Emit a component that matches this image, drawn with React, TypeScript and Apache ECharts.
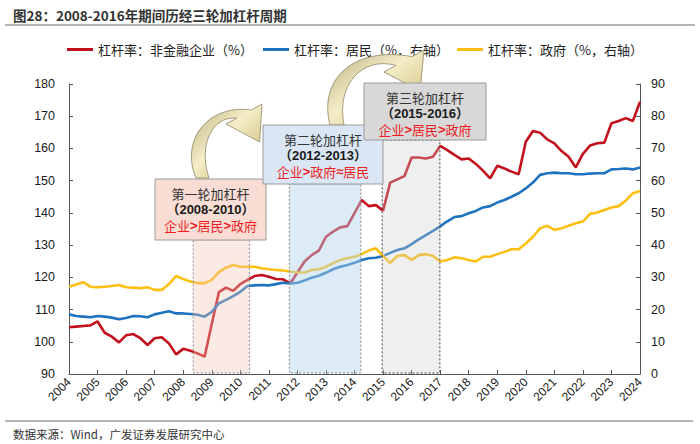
import React, { useEffect, useRef } from 'react';
import * as echarts from 'echarts';

// ---- data (quarterly, first point = 2004Q1 at x = 2004.00) ----
const START_YEAR = 2004;
const STEP = 0.25;

const seriesNames = ['杠杆率：非金融企业（%）', '杠杆率：居民（%，右轴）', '杠杆率：政府（%，右轴）'];

// left axis (%)
const corporateLeverage = [
  104.5, 104.7, 104.9, 105.1, 106.3,
  102.8, 101.6, 99.8, 102.0, 102.4,
  101.1, 99.0, 101.1, 101.4, 99.5,
  96.1, 97.8, 97.2, 96.4, 95.4,
  105.5, 115.4, 116.8, 115.8, 117.9,
  119.2, 120.4, 120.7, 120.2, 119.5,
  119.4, 118.1, 121.5, 124.9, 126.9,
  128.3, 132.6, 134.2, 135.5, 135.9,
  139.9, 144.0, 142.1, 142.4, 140.7,
  149.4, 150.4, 151.4, 157.2, 157.2,
  156.9, 157.4, 160.8, 159.5, 158.0,
  156.6, 156.9, 155.2, 153.1, 150.7,
  154.6, 153.8, 152.8, 152.0, 162.1,
  165.4, 164.9, 162.8, 161.6, 159.2,
  157.4, 154.1, 158.3, 160.9, 161.6,
  161.8, 167.8, 168.5, 169.4, 168.5,
  174.5,
];

// right axis (%)
const householdLeverage = [
  18.5, 18.0, 17.8, 17.6, 18.0,
  17.8, 17.5, 17.0, 17.4, 18.0,
  17.9, 17.6, 18.5, 19.0, 19.5,
  18.8, 18.8, 18.6, 18.4, 17.8,
  19.3, 21.9, 23.0, 24.2, 25.5,
  27.3, 27.5, 27.6, 27.5, 27.9,
  28.3, 28.1, 28.3, 29.0, 29.9,
  30.5, 31.4, 32.5, 33.3, 33.8,
  34.5, 35.4, 35.9, 36.1, 36.6,
  37.6, 38.5, 39.0, 40.3, 41.8,
  43.1, 44.4, 45.8, 47.4, 48.7,
  49.0, 49.9, 50.6, 51.7, 52.1,
  53.2, 54.0, 55.0, 56.1, 57.6,
  59.4, 61.8, 62.3, 62.5, 62.3,
  62.3, 62.0, 62.0, 62.2, 62.3,
  62.3, 63.5, 63.6, 63.8, 63.5,
  64.1,
];

// right axis (%)
const governmentLeverage = [
  27.1, 27.8, 28.5, 27.1, 26.9,
  27.1, 27.3, 27.6, 26.9, 26.8,
  26.6, 26.9, 26.1, 26.1, 27.9,
  30.4, 29.5, 28.7, 28.2, 28.2,
  29.2, 31.6, 33.0, 33.8, 33.3,
  33.3, 33.3, 32.8, 32.5, 32.3,
  32.1, 31.8, 31.5, 31.5, 32.3,
  32.5, 33.3, 34.4, 35.4, 35.9,
  36.4, 37.2, 38.3, 39.0, 36.6,
  34.5, 36.6, 36.9, 35.4, 36.9,
  37.2, 36.6, 34.9, 35.4, 36.2,
  35.9, 35.4, 34.9, 36.4, 36.4,
  37.2, 37.9, 38.7, 38.7, 40.5,
  42.6, 45.2, 46.0, 44.7, 45.2,
  46.0, 46.8, 47.3, 49.7, 50.1,
  50.9, 51.7, 52.1, 53.8, 56.1,
  56.8,
];

// leveraging periods (start, end in years)
const periodStart = [2008.35, 2011.72, 2014.97];
const periodEnd = [2010.32, 2014.22, 2016.99];
const periodTitles = ['第一轮加杠杆', '第二轮加杠杆', '第三轮加杠杆'];
const periodYears = ['（2008-2010）', '（2012-2013）', '（2015-2016）'];
const periodOrder = [
  ['企业', '>', '居民', '>', '政府'],
  ['企业', '>', '政府', '≈', '居民'],
  ['企业', '>', '居民', '>', '政府'],
];

// ---- layout / style ----
const CJK = '"Noto Sans CJK SC", "Noto Sans", sans-serif';
const LATIN = '"Liberation Sans", Arial, sans-serif';
const COLORS = ['#c2101c', '#1f73be', '#fdbf12'];

const boxLayout = [
  { x: 155, y: 179, w: 111, h: 61, fill: '#f9ddd4', regionFill: 'rgba(245,196,180,0.36)', regionStroke: '#8a8a8a' },
  { x: 263, y: 125, w: 120, h: 59, fill: '#dae6f3', regionFill: 'rgba(180,210,238,0.45)', regionStroke: '#8a8a8a' },
  { x: 364, y: 83, w: 122, h: 57, fill: '#d8d8d8', regionFill: 'rgba(205,205,205,0.32)', regionStroke: '#404040' },
];

const ARROW1 =
  'M 196 178 C 180 140 208 104 251.2 110 L 262 104 L 259.6 142 L 226 124 L 236.8 118 C 212 116 198 145 209 178 Z';
const ARROW2 =
  'M 330 125 C 318 78 355 46 412 56.6 L 424 50 L 420 91 L 384 72 L 396 65.4 C 362 56 336 85 344 125 Z';

echarts.graphic.registerShape('curvedArrowA', echarts.graphic.extendPath(ARROW1, {}));
echarts.graphic.registerShape('curvedArrowB', echarts.graphic.extendPath(ARROW2, {}));

const arrowFill = {
  type: 'linear',
  x: 0,
  y: 0,
  x2: 1,
  y2: 1,
  colorStops: [
    { offset: 0, color: '#b7ab7a' },
    { offset: 0.45, color: '#f4eec8' },
    { offset: 1, color: '#c6b26a' },
  ],
  global: false,
};

function toPoints(values: number[]) {
  return values.map((v, i) => [START_YEAR + i * STEP, v]);
}

function buildBox(i: number) {
  const b = boxLayout[i];
  const cx = b.x + b.w / 2;
  const parts = periodOrder[i];
  const rich: any = {
    c: { fontSize: 13, fontFamily: CJK, fill: '#ee1c25', fontWeight: 'normal' },
    s: { fontSize: 13, fontFamily: LATIN, fill: '#ee1c25', fontWeight: 'bold' },
  };
  const richText = parts.map((p, k) => (k % 2 === 0 ? `{c|${p}}` : `{s|${p}}`)).join('');
  return {
    type: 'group',
    z: 50,
    children: [
      {
        type: 'rect',
        z: 50,
        shape: { x: b.x, y: b.y, width: b.w, height: b.h },
        style: { fill: b.fill, stroke: '#9a9a9a', lineWidth: 1 },
      },
      {
        type: 'text',
        z: 51,
        style: {
          x: cx,
          y: b.y + 14,
          text: periodTitles[i],
          align: 'center',
          verticalAlign: 'middle',
          fontSize: 13,
          fontFamily: CJK,
          fill: '#333333',
        },
      },
      {
        type: 'text',
        z: 51,
        style: {
          x: cx,
          y: b.y + 30,
          text: periodYears[i],
          align: 'center',
          verticalAlign: 'middle',
          fontSize: 13,
          fontWeight: 'bold',
          fontFamily: LATIN + ', ' + CJK,
          fill: '#1a1a1a',
        },
      },
      {
        type: 'text',
        z: 51,
        style: {
          x: cx,
          y: b.y + 46,
          text: richText,
          rich,
          align: 'center',
          verticalAlign: 'middle',
        },
      },
    ],
  };
}

export default function App() {
  const ref = useRef<HTMLDivElement>(null);

  useEffect(() => {
    document.body.style.margin = '0';
    const chart = echarts.init(ref.current!, null, { renderer: 'svg' });

    const legendBase = {
      top: 38,
      icon: 'rect',
      itemWidth: 26,
      itemHeight: 3,
      itemGap: 10,
      textStyle: { fontSize: 13, fontFamily: CJK, color: '#222222' },
    };

    const option: any = {
      animation: false,
      backgroundColor: '#ffffff',
      grid: { left: 69, right: 60, top: 84, bottom: 70, containLabel: false },
      legend: [
        { ...legendBase, left: 62, data: [seriesNames[0]] },
        { ...legendBase, left: 258, data: [seriesNames[1]] },
        { ...legendBase, left: 452, data: [seriesNames[2]] },
      ],
      xAxis: {
        type: 'value',
        min: 2004,
        max: 2024,
        interval: 1,
        axisLine: { show: true, lineStyle: { color: '#555555', width: 1 } },
        axisTick: { show: true, inside: true, length: 4, lineStyle: { color: '#555555' } },
        splitLine: { show: false },
        axisLabel: {
          rotate: 45,
          margin: 6,
          fontSize: 12,
          fontFamily: LATIN,
          color: '#1a1a1a',
          formatter: (v: number) => String(v),
        },
      },
      yAxis: [
        {
          type: 'value',
          min: 90,
          max: 180,
          interval: 10,
          axisLine: { show: true, lineStyle: { color: '#555555', width: 1 } },
          axisTick: { show: true, inside: true, length: 4, lineStyle: { color: '#555555' } },
          splitLine: { show: false },
          axisLabel: { margin: 14, fontSize: 12.5, fontFamily: LATIN, color: '#1a1a1a' },
        },
        {
          type: 'value',
          position: 'right',
          min: 0,
          max: 90,
          interval: 10,
          axisLine: { show: true, lineStyle: { color: '#555555', width: 1 } },
          axisTick: { show: true, inside: true, length: 4, lineStyle: { color: '#555555' } },
          splitLine: { show: false },
          axisLabel: { margin: 11, fontSize: 12.5, fontFamily: LATIN, color: '#1a1a1a' },
        },
      ],
      series: [
        {
          name: seriesNames[0],
          type: 'line',
          yAxisIndex: 0,
          data: toPoints(corporateLeverage),
          showSymbol: false,
          symbol: 'none',
          z: 2,
          lineStyle: { width: 2.6, color: COLORS[0] },
          itemStyle: { color: COLORS[0] },
        },
        {
          name: seriesNames[1],
          type: 'line',
          yAxisIndex: 1,
          data: toPoints(householdLeverage),
          showSymbol: false,
          symbol: 'none',
          z: 2,
          lineStyle: { width: 2.6, color: COLORS[1] },
          itemStyle: { color: COLORS[1] },
        },
        {
          name: seriesNames[2],
          type: 'line',
          yAxisIndex: 1,
          data: toPoints(governmentLeverage),
          showSymbol: false,
          symbol: 'none',
          z: 2,
          lineStyle: { width: 2.6, color: COLORS[2] },
          itemStyle: { color: COLORS[2] },
        },
        {
          type: 'custom',
          yAxisIndex: 0,
          z: 6,
          silent: true,
          data: periodStart.map((s, i) => [s, periodEnd[i], 90]),
          encode: { x: [0, 1], y: 2 },
          renderItem: (params: any, api: any) => {
            const i = params.dataIndex;
            const b = boxLayout[i];
            const a = api.coord([api.value(0), 90]);
            const c = api.coord([api.value(1), 90]);
            const top = b.y + b.h;
            return {
              type: 'rect',
              shape: { x: a[0], y: top, width: c[0] - a[0], height: a[1] - top - 1 },
              style: {
                fill: b.regionFill,
                stroke: b.regionStroke,
                lineWidth: 1,
                lineDash: [2, 2],
              },
            };
          },
        },
      ],
      graphic: [
        {
          type: 'text',
          z: 60,
          style: {
            x: 13,
            y: 15,
            text: '图28：2008-2016年期间历经三轮加杠杆周期',
            verticalAlign: 'middle',
            fontSize: 13.5,
            fontWeight: 'bold',
            fontFamily: CJK,
            fill: '#333333',
          },
        },
        {
          type: 'line',
          z: 60,
          shape: { x1: 5, y1: 25, x2: 695, y2: 25 },
          style: { stroke: '#666666', lineWidth: 1 },
        },
        {
          type: 'line',
          z: 60,
          shape: { x1: 5, y1: 421, x2: 693, y2: 421 },
          style: { stroke: '#666666', lineWidth: 1 },
        },
        {
          type: 'text',
          z: 60,
          style: {
            x: 13,
            y: 434,
            text: '数据来源：Wind，广发证券发展研究中心',
            verticalAlign: 'middle',
            fontSize: 11.5,
            fontFamily: CJK,
            fill: '#333333',
          },
        },
        {
          type: 'curvedArrowA',
          x: 0,
          y: 0,
          z: 40,
          style: { fill: arrowFill, stroke: '#8f8766', lineWidth: 0.8 },
        },
        {
          type: 'curvedArrowB',
          x: 0,
          y: 0,
          z: 40,
          style: { fill: arrowFill, stroke: '#8f8766', lineWidth: 0.8 },
        },
        buildBox(0),
        buildBox(1),
        buildBox(2),
      ],
    };

    chart.setOption(option);
    return () => chart.dispose();
  }, []);

  return <div ref={ref} style={{ width: 700, height: 444 }} />;
}
